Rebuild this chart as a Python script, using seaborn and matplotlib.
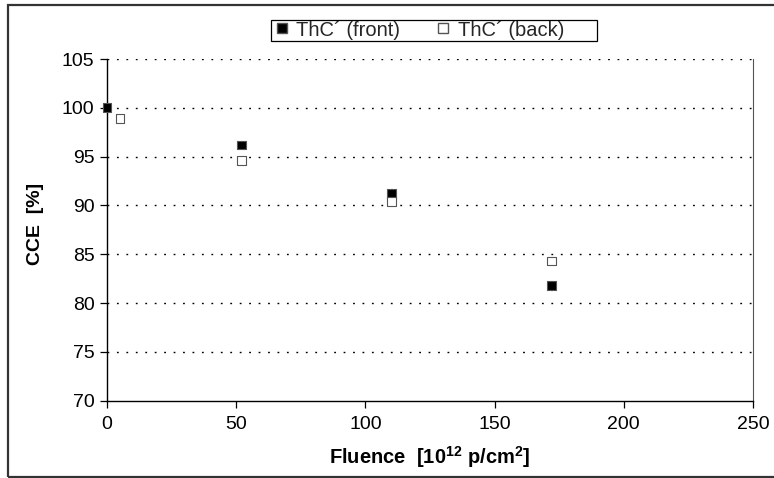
import seaborn as sns
import matplotlib.pyplot as plt
import pandas as pd
from matplotlib.patches import Rectangle

# values
fluence_front = [0, 52, 110, 172]
cce_front = [100.0, 96.2, 91.2, 81.8]
fluence_back = [5, 52, 110, 172]
cce_back = [98.9, 94.6, 90.4, 84.3]
series_names = ["ThC\u00b4 (front)", "ThC\u00b4 (back)"]

df = pd.DataFrame({
    'Fluence': fluence_front + fluence_back,
    'CCE': cce_front + cce_back,
    'Series': [series_names[0]] * len(fluence_front) + [series_names[1]] * len(fluence_back),
})

sns.set_style("white", {'xtick.bottom': True, 'ytick.left': True})
plt.rcParams['font.family'] = ['Liberation Sans', 'DejaVu Sans']
plt.rcParams['mathtext.fontset'] = 'custom'
plt.rcParams['mathtext.rm'] = 'Liberation Sans'
plt.rcParams['mathtext.bf'] = 'Liberation Sans:bold'

fig = plt.figure(figsize=(7.74, 4.78), dpi=100)
ax = fig.add_axes([107 / 774, 1 - 400.7 / 478, (753 - 107) / 774, (400.7 - 59) / 478])

sns.scatterplot(data=df, x='Fluence', y='CCE', hue='Series', style='Series',
                palette={series_names[0]: 'black', series_names[1]: 'white'},
                markers={series_names[0]: 's', series_names[1]: 's'},
                s=40, edgecolor='#555555', linewidth=0.8, ax=ax, legend=False,
                zorder=3, clip_on=False)

ax.set_xlim(0, 250)
ax.set_ylim(70, 105)
ax.set_xticks(range(0, 251, 50))
ax.set_yticks(range(70, 106, 5))
ax.tick_params(axis='both', labelsize=14, direction='out', length=5, width=0.9,
               color='black', labelcolor='black', left=True, bottom=True, pad=4)
ax.tick_params(axis='x', pad=6)

for y in range(75, 106, 5):
    ax.axhline(y, color='black', linestyle=(0, (1.3, 5.5)), linewidth=1.0, zorder=1)

ax.spines['top'].set_visible(False)
ax.spines['left'].set_color('black')
ax.spines['bottom'].set_color('black')
ax.spines['left'].set_linewidth(1.0)
ax.spines['bottom'].set_linewidth(1.0)
ax.spines['right'].set_color('#555555')
ax.spines['right'].set_linewidth(0.8)

ax.set_xlabel(r'Fluence  [10$^{\mathbf{12}}$ p/cm$^{\mathbf{2}}$]', fontsize=14.5,
              fontweight='bold', labelpad=8, color='black')
ax.set_ylabel('CCE  [%]', fontsize=14, fontweight='bold', color='black')
ax.yaxis.set_label_coords(-0.098, 0.517)

# legend built from the same marker styles, frame drawn separately
h_front = plt.Line2D([], [], marker='s', linestyle='', markerfacecolor='black',
                     markeredgecolor='#555555', markersize=6.5)
h_back = plt.Line2D([], [], marker='s', linestyle='', markerfacecolor='white',
                    markeredgecolor='#555555', markersize=6.5)
leg = fig.legend([h_front, h_back], series_names, ncol=2, loc='center left',
                 bbox_to_anchor=(275 / 774, 1 - 30 / 478), fontsize=14.5,
                 frameon=False, borderpad=0, handlelength=0.7, handletextpad=0.35,
                 columnspacing=1.8, borderaxespad=0)
fig.patches.append(Rectangle((271 / 774, 1 - 41 / 478), (597 - 271) / 774, 21 / 478,
                             transform=fig.transFigure, fill=False,
                             edgecolor='black', linewidth=0.9))

# outer chart border
fig.patches.append(Rectangle((8 / 774, 1 / 478), 1.0, (477 - 5) / 478 + 0.001,
                             transform=fig.transFigure, fill=False,
                             edgecolor='#333333', linewidth=1.6))

plt.savefig("out.png", dpi=100)
